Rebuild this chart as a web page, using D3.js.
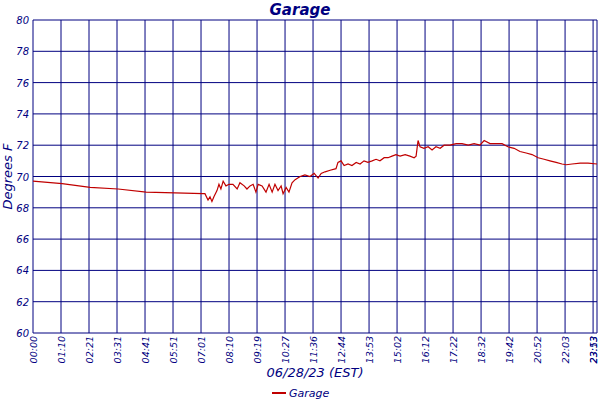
<!DOCTYPE html>
<html><head><meta charset="utf-8">
<script src="https://cdn.jsdelivr.net/npm/d3@7"></script>
<style>body{margin:0;background:#fff}text{font-family:"DejaVu Sans",sans-serif;font-style:italic;fill:#000080}</style>
</head><body><div id="chart"></div>
<script>
// tick labels, one every 100 samples, plus the final sample
var tickLabels = ["00:00","01:10","02:21","03:31","04:41","05:51","07:01","08:10","09:19","10:27","11:36","12:44","13:53","15:02","16:12","17:22","18:32","19:42","20:52","22:03","23:13"];
var lastSample = 2014, lastLabel = "23:53";
var samples = [0,104,204,304,404,507,607,614,625,632,639,646,657,664,671,679,689,700,714,729,739,754,764,775,786,796,804,818,832,843,854,864,875,886,893,904,914,925,936,954,971,989,1004,1018,1029,1043,1061,1082,1089,1100,1111,1125,1139,1154,1168,1182,1196,1211,1225,1239,1254,1268,1282,1296,1311,1329,1346,1361,1368,1375,1382,1396,1411,1425,1439,1454,1468,1489,1511,1532,1554,1575,1596,1611,1632,1654,1675,1696,1718,1739,1761,1782,1804,1825,1846,1868,1889,1904,1925,1954,1982,2014];
var temps = [69.7,69.55,69.3,69.2,69.0,68.95,68.9,68.9,68.5,68.7,68.4,68.7,69.1,69.5,69.2,69.7,69.4,69.5,69.5,69.2,69.6,69.4,69.2,69.4,69.5,69.0,69.5,69.4,69.0,69.5,69.0,69.5,69.1,69.4,68.9,69.3,69.0,69.6,69.8,70.0,70.1,70.0,70.2,69.9,70.2,70.3,70.4,70.5,70.9,71.0,70.7,70.8,70.7,70.9,70.8,71.0,70.9,71.0,71.1,71.0,71.2,71.2,71.3,71.4,71.3,71.4,71.3,71.2,71.3,72.3,71.9,71.8,71.9,71.7,71.9,71.8,72.0,72.0,72.1,72.1,72.0,72.1,72.0,72.3,72.1,72.1,72.1,71.9,71.8,71.6,71.5,71.4,71.2,71.1,71.0,70.9,70.8,70.75,70.8,70.85,70.85,70.8];
var yTicks = [60,62,64,66,68,70,72,74,76,78,80];

var margin = {top: 20, right: 3, bottom: 67, left: 33};
var width = 600 - margin.left - margin.right;
var height = 400 - margin.top - margin.bottom;

var svg = d3.select("#chart").append("svg").attr("width", 600).attr("height", 400);
var g = svg.append("g").attr("transform", `translate(${margin.left},${margin.top})`);

var x = d3.scaleLinear().domain([0, lastSample]).range([0, width]);
var y = d3.scaleLinear().domain([60, 80]).range([height, 0]);

// grid
g.selectAll(".hg").data(yTicks).enter().append("line")
  .attr("x1", 0).attr("x2", width).attr("y1", d => y(d)).attr("y2", d => y(d))
  .attr("stroke", "#000080").attr("stroke-width", 1);
var xTickVals = tickLabels.map((t, i) => i * 100).concat([lastSample]);
g.selectAll(".vg").data(xTickVals).enter().append("line")
  .attr("x1", d => x(d)).attr("x2", d => x(d)).attr("y1", 0).attr("y2", height)
  .attr("stroke", "#000080").attr("stroke-width", 1);

// y labels
g.selectAll(".yl").data(yTicks).enter().append("text")
  .attr("x", -4).attr("y", d => y(d) + 4).attr("text-anchor", "end")
  .attr("font-size", 10).text(d => d);

// x labels
var allLabels = tickLabels.concat([lastLabel]);
g.selectAll(".xl").data(xTickVals).enter().append("text")
  .attr("transform", (d, i) => `translate(${x(d) + (i === allLabels.length - 1 ? 0 : 4)},${height + 3}) rotate(-90)`)
  .attr("text-anchor", "end").attr("font-size", 9.5)
  .text((d, i) => allLabels[i]);

// line
var line = d3.line().x((d, i) => x(samples[i])).y(d => y(d));
g.append("path").datum(temps).attr("d", line)
  .attr("fill", "none").attr("stroke", "#c00000").attr("stroke-width", 1.2);

// titles
svg.append("text").attr("x", 300).attr("y", 15).attr("text-anchor", "middle")
  .attr("font-size", 15).attr("font-weight", "bold").text("Garage");
svg.append("text").attr("x", 315).attr("y", 377).attr("text-anchor", "middle")
  .attr("font-size", 13).text("06/28/23 (EST)");
svg.append("text").attr("transform", `translate(12,${margin.top + height / 2}) rotate(-90)`)
  .attr("text-anchor", "middle").attr("font-size", 13).text("Degrees F");

// legend
svg.append("line").attr("x1", 272).attr("x2", 286).attr("y1", 393).attr("y2", 393)
  .attr("stroke", "#c00000").attr("stroke-width", 2);
svg.append("text").attr("x", 289).attr("y", 397).attr("font-size", 11).text("Garage");
</script></body></html>
